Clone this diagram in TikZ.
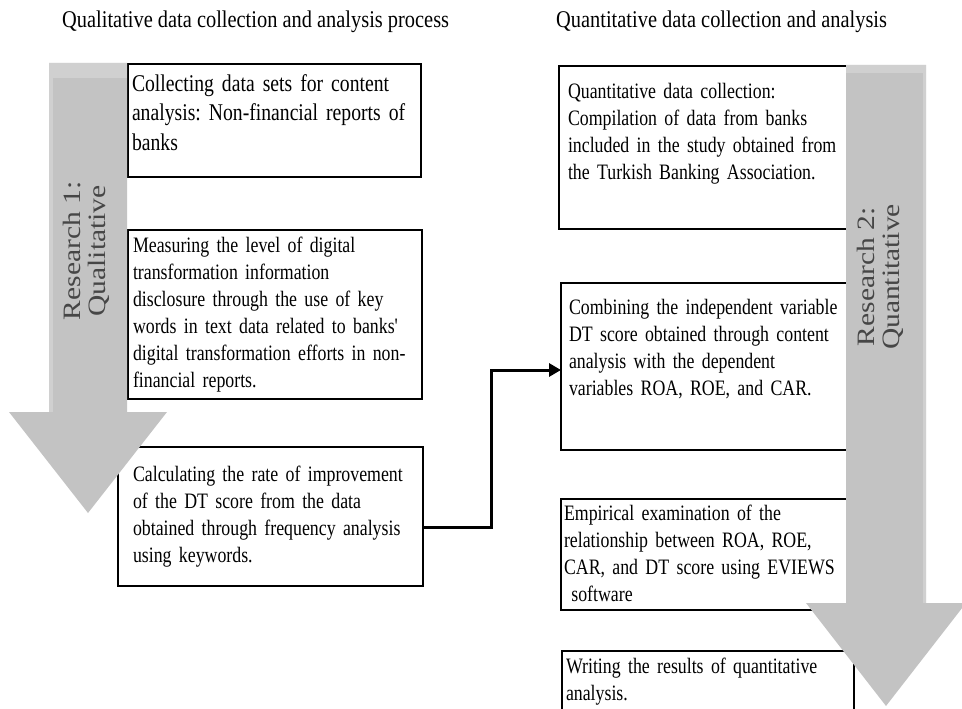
\documentclass[tikz,border=0pt]{standalone}
\usepackage{fontspec}
\setmainfont{Liberation Serif}[FakeStretch=0.85]
\newfontfamily\bodyfont{Liberation Serif}[FakeStretch=0.81]
\newfontfamily\topfont{Liberation Serif}[FakeStretch=0.82]
\newfontfamily\sidefont{Liberation Serif}[FakeStretch=1.18]
\usetikzlibrary{arrows.meta,positioning,calc}
\definecolor{arrowgray}{RGB}{195,195,195}
\definecolor{arrowedge}{RGB}{208,208,208}
\definecolor{sidetext}{RGB}{70,70,70}
\newcommand{\boxfont}{\bodyfont\fontsize{22}{27}\selectfont\frenchspacing}
\newcommand{\bigfont}{\topfont\fontsize{24}{29.5}\selectfont\frenchspacing}
\newcommand{\headfont}{\fontsize{24}{29.5}\selectfont}
\newcommand{\sidesize}{\fontsize{25}{25}\selectfont}

\begin{document}
\begin{tikzpicture}[x=1pt, y=-1pt, >={Triangle[length=12pt,width=13pt]},
   stepbox/.style={draw, line width=2pt, anchor=north west, align=left,
     inner ysep=0pt, outer sep=0pt, font=\boxfont},
   sidelabel/.style={rotate=90, align=center, text=sidetext, font=\sidefont\sidesize},
   heading/.style={anchor=base west, inner sep=0pt, font=\headfont}]
  \useasboundingbox (0,0) rectangle (962,709);
  \clip (0,0) rectangle (962,709);
  \node[heading] (h1) at (62,28) {Qualitative data collection and analysis process};
  \node[heading] (h2) at (556,28) {Quantitative data collection and analysis};
  % qualitative steps
  \node[stepbox, font=\bigfont, text width=285pt, inner xsep=4pt, minimum height=113pt] (b1) at (128,64)
    {\begin{tabular}{@{}l@{}} Collecting data sets for content \\ analysis: Non-financial reports of \\ banks \\[-18.5pt] \mbox{} \end{tabular}};
  \node[stepbox, text width=284pt, inner xsep=5pt, minimum height=169pt] (b2) at (128,230)
    {\begin{tabular}{@{}l@{}} Measuring the level of digital \\ transformation information \\ disclosure through the use of key \\ words in text data related to banks' \\ digital transformation efforts in non- \\ financial reports. \end{tabular}};
  \node[stepbox, text width=275pt, inner xsep=15pt, minimum height=139pt] (b3) at (118,447)
    {\begin{tabular}{@{}l@{}} Calculating the rate of improvement \\ of the DT score from the data \\ obtained through frequency analysis \\ using keywords. \end{tabular}};
  % quantitative steps
  \node[stepbox, text width=277pt, inner xsep=9pt, minimum height=163pt] (b4) at (559,66)
    {\begin{tabular}{@{}l@{}} Quantitative data collection: \\ Compilation of data from banks \\ included in the study obtained from \\ the Turkish Banking Association. \\ \mbox{} \end{tabular}};
  \node[stepbox, text width=277pt, inner xsep=8pt, minimum height=167pt] (b5) at (561,283)
    {\begin{tabular}{@{}l@{}} Combining the independent variable \\ DT score obtained through content \\ analysis with the dependent \\ variables ROA, ROE, and CAR. \\[7pt] \mbox{} \end{tabular}};
  \node[stepbox, text width=287pt, inner xsep=3pt, minimum height=111pt] (b6) at (561,499)
    {\begin{tabular}{@{}l@{}} \rule{0pt}{21.5pt}Empirical examination of the \\ relationship between ROA, ROE, \\ CAR, and DT score using EVIEWS \\ \ software \end{tabular}};
  \node[stepbox, text width=284pt, inner xsep=4pt, minimum height=61pt] (b7) at (562,651)
    {\begin{tabular}{@{}l@{}} Writing the results of quantitative \\ analysis. \end{tabular}};
  % big arrows
  \fill[arrowgray] (49,63) -- (127,63) -- (127,412) -- (167,412) -- (88,513)
    -- (9,412) -- (49,412) -- cycle;
  \fill[arrowedge] (49,63) rectangle (127,78);
  \fill[arrowedge] (49,63) rectangle (53,412);
  \fill[arrowgray] (846,65) -- (926,65) -- (926,603) -- (966,603) -- (886,706)
    -- (806,603) -- (846,603) -- cycle;
  \fill[arrowedge] (846,65) rectangle (926,73);
  \fill[arrowedge] (923,65) rectangle (926,603);
  \node[sidelabel] (r1) at (86,251) {Research 1:\\Qualitative};
  \node[sidelabel] (r2) at (880,277) {Research 2:\\Quantitative};
  % link
  \draw[->, line width=3pt] ([yshift=-11pt]b3.east) -- ++(68,0) |- ([yshift=-3.5pt]b5.west);
\end{tikzpicture}
\end{document}
